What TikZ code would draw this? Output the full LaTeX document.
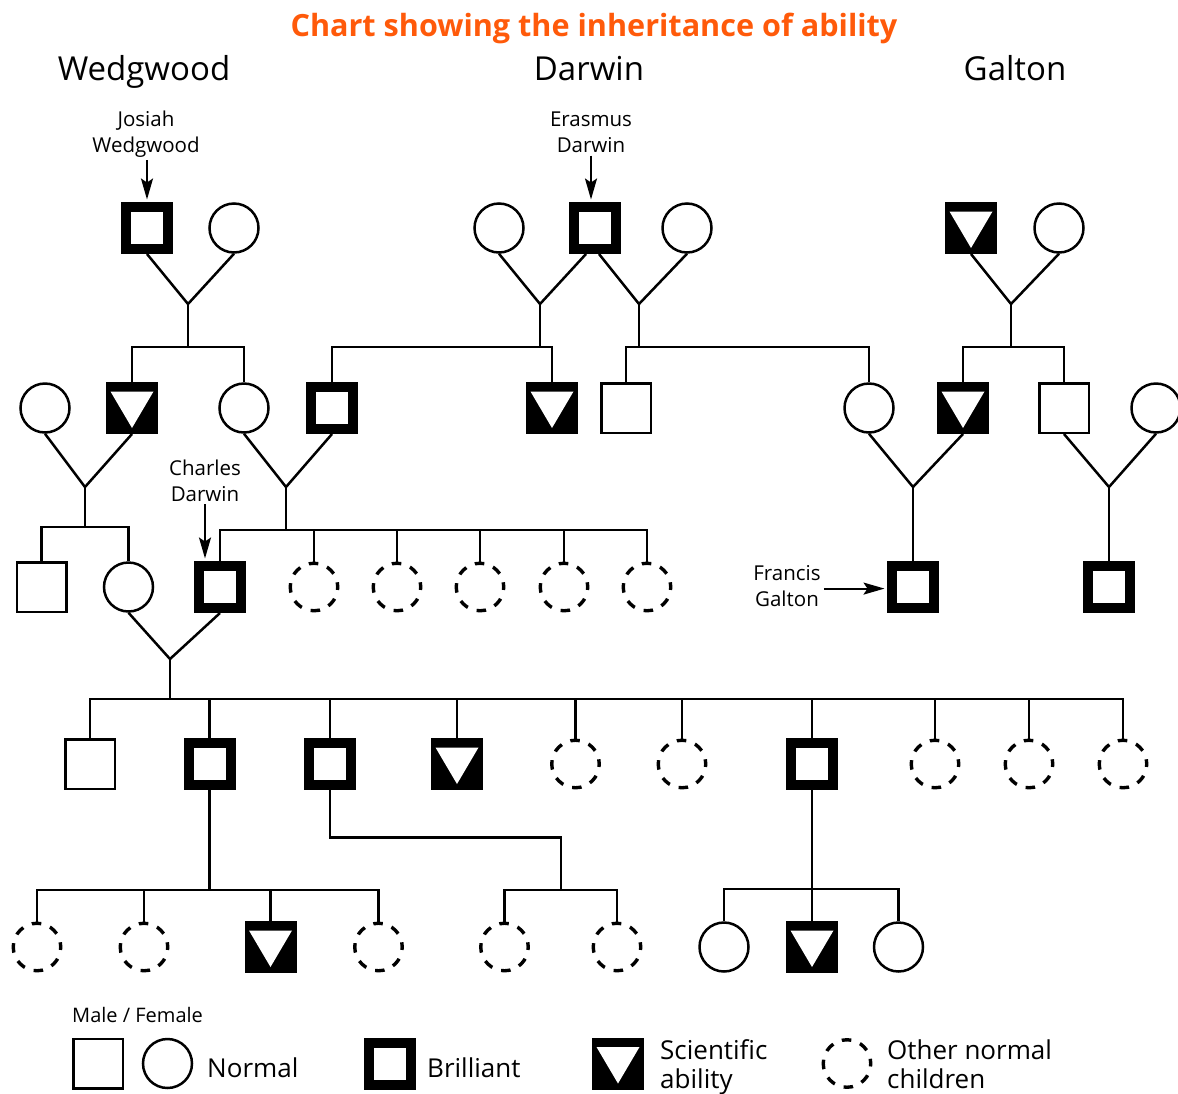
\documentclass[tikz,border=0pt]{standalone}
\usepackage{fontspec}
\setmainfont{Open Sans}
\usetikzlibrary{arrows.meta}
\definecolor{ttlc}{RGB}{255,90,10}
\begin{document}
\begin{tikzpicture}[x=1pt,y=-1pt,
  con/.style={line width=2.5pt},
  nm/.style={draw, line width=2.5pt, fill=white, minimum size=49.5pt, inner sep=0pt},
  nf/.style={circle, draw, line width=2.5pt, fill=white, minimum size=49pt, inner sep=0pt},
  br/.style={fill=black, minimum size=52pt, inner sep=0pt, outer sep=0pt,
    path picture={\fill[white] ([shift={(-16pt,-16pt)}]path picture bounding box.center) rectangle ([shift={(16pt,16pt)}]path picture bounding box.center);}},
  sc/.style={fill=black, minimum size=52pt, inner sep=0pt, outer sep=0pt,
    path picture={\fill[white] ([shift={(-21.5pt,16.5pt)}]path picture bounding box.center) -- ([shift={(21.5pt,16.5pt)}]path picture bounding box.center) -- ([shift={(0pt,-20pt)}]path picture bounding box.center) -- cycle;}},
  ot/.style={circle, draw, line width=3.4pt, dash pattern=on 9.5pt off 9.35pt, dash phase=4.75pt, minimum size=47.5pt, inner sep=0pt},
  fam/.style={font=\fontsize{33}{38}\selectfont, anchor=base, inner sep=0pt},
  lbl/.style={font=\fontsize{20.5}{26}\selectfont, align=center, anchor=base, inner sep=1pt},
  leg/.style={font=\fontsize{26}{29}\selectfont, align=left, anchor=base west, inner sep=0pt},
  arr/.style={line width=2pt, -{Stealth[length=21pt, width=12pt, inset=4pt]}, shorten >=2.5pt, shorten <=2pt},
]
\useasboundingbox (0,0) rectangle (1178,1093);

% Title and family names
\node[font=\bfseries\fontsize{30.6}{36}\selectfont, text=ttlc, anchor=base, inner sep=0pt] (title) at (594,36) {Chart showing the inheritance of ability};
\node[fam] (fw) at (144,80) {Wedgwood};
\node[fam] (fd) at (589,80) {Darwin};
\node[fam] (fgt) at (1015,80) {Galton};

% Row 1
\node[br] (jw) at (147,228) {};
\node[nf] (jwm) at (234,228) {};
\node[nf] (em1) at (499,228) {};
\node[br] (ed) at (595,228) {};
\node[nf] (em2) at (687,228) {};
\node[sc] (gt) at (971,228) {};
\node[nf] (gtm) at (1059,228) {};

% Row 2
\node[nf] (a1) at (45,408) {};
\node[sc] (a2) at (132,408) {};
\node[nf] (a3) at (244,408) {};
\node[br] (a4) at (332,408) {};
\node[sc] (a5) at (552,408) {};
\node[nm] (a6) at (626,408) {};
\node[nf] (a7) at (869,408) {};
\node[sc] (a8) at (963,408) {};
\node[nm] (a9) at (1064,408) {};
\node[nf] (a10) at (1156,408) {};

% Row 3
\node[nm] (b1) at (41.5,587) {};
\node[nf] (b2) at (128.5,587) {};
\node[br] (cd) at (220,587) {};
\node[ot] (o1) at (314,587) {};
\node[ot] (o2) at (397,587) {};
\node[ot] (o3) at (480,587) {};
\node[ot] (o4) at (564,587) {};
\node[ot] (o5) at (647,587) {};
\node[br] (fg) at (913,587) {};
\node[br] (b9) at (1109,587) {};

% Row 4
\node[nm] (c1) at (90,764) {};
\node[br] (c2) at (209.5,764) {};
\node[br] (c3) at (330,764) {};
\node[sc] (c4) at (457,764) {};
\node[ot] (c5) at (575.5,764) {};
\node[ot] (c6) at (682,764) {};
\node[br] (c7) at (812,764) {};
\node[ot] (c8) at (935,764) {};
\node[ot] (c9) at (1029,764) {};
\node[ot] (c10) at (1123,764) {};

% Row 5
\node[ot] (d1) at (37,947) {};
\node[ot] (d2) at (144,947) {};
\node[sc] (d3) at (270.5,947) {};
\node[ot] (d4) at (378.5,947) {};
\node[ot] (d5) at (504.5,947) {};
\node[ot] (d6) at (617,947) {};
\node[nf] (d7) at (724,947) {};
\node[sc] (d8) at (812,947) {};
\node[nf] (d9) at (898.5,947) {};

% Junction coordinates
\coordinate (v1) at (188,304); \coordinate (h1) at (188,347);
\coordinate (v2) at (540,304); \coordinate (h2) at (540,347);
\coordinate (v3) at (639,304); \coordinate (h3) at (639,347);
\coordinate (v4) at (1011,304); \coordinate (h4) at (1011,347);
\coordinate (v5) at (85,487); \coordinate (h5) at (85,527);
\coordinate (v6) at (286,487); \coordinate (h6) at (286,530);
\coordinate (v7) at (913,487);
\coordinate (v8) at (1109,487);
\coordinate (v9) at (170,659); \coordinate (h9) at (170,699);
\coordinate (h10) at (209.5,890);
\coordinate (k1) at (561,837.5); \coordinate (h11) at (561,890);
\coordinate (h12) at (812,889);

% Wedgwood
\draw[con] (jw.south) -- (v1) -- (jwm.south);
\draw[con] (v1) -- (h1);
\draw[con] (a2.north) |- (h1) -| (a3.north);
% Darwin
\draw[con] (em1.south) -- (v2) -- ([xshift=-9pt]ed.south);
\draw[con] (v2) -- (h2);
\draw[con] (a4.north) |- (h2) -| (a5.north);
\draw[con] ([xshift=4pt]ed.south) -- (v3) -- (em2.south);
\draw[con] (v3) -- (h3);
\draw[con] (a6.north) |- (h3) -| (a7.north);
% Galton
\draw[con] (gt.south) -- (v4) -- (gtm.south);
\draw[con] (v4) -- (h4);
\draw[con] (a8.north) |- (h4) -| (a9.north);

% Row 2 marriages
\draw[con] (a1.south) -- (v5) -- (a2.south);
\draw[con] (v5) -- (h5);
\draw[con] (b1.north) |- (h5) -| (b2.north);
\draw[con] (a3.south) -- (v6) -- (a4.south);
\draw[con] (v6) -- (h6);
\draw[con] (cd.north) |- (h6) -| (o5.north);
\foreach \n in {o1,o2,o3,o4} \draw[con] (\n.north) -- (\n.north |- h6);
\draw[con] (a7.south) -- (v7) -- (a8.south);
\draw[con] (v7) -- (fg.north);
\draw[con] (a9.south) -- (v8) -- (a10.south);
\draw[con] (v8) -- (b9.north);

% Row 3 marriage
\draw[con] (b2.south) -- (v9) -- (cd.south);
\draw[con] (v9) -- (h9);
\draw[con] (c1.north) |- (h9) -| (c10.north);
\foreach \n in {c2,c3,c4,c5,c6,c7,c8,c9} \draw[con] (\n.north) -- (\n.north |- h9);

% Row 4 to 5
\draw[con] (c2.south) -- (h10);
\draw[con] (d1.north) |- (h10) -| (d4.north);
\foreach \n in {d2,d3} \draw[con] (\n.north) -- (\n.north |- h10);
\draw[con] (c3.south) |- (k1) -- (h11);
\draw[con] (d5.north) |- (h11) -| (d6.north);
\draw[con] (c7.south) -- (d8.north);
\draw[con] (d7.north) |- (h12) -| (d9.north);

% Name labels and arrows
\node[lbl] (jwl) at (146,152.3) {Josiah\\Wedgwood};
\draw[arr] (jw.north |- jwl.south) -- (jw.north);
\node[lbl] (edl) at (591,152.3) {Erasmus\\Darwin};
\draw[arr] (edl.south) -- (edl.south |- ed.north);
\node[lbl] (cdl) at (205,501) {Charles\\Darwin};
\draw[arr] (cdl.south) -- (cdl.south |- cd.north);
\node[lbl] (fgl) at (787,606) {Francis\\Galton};
\coordinate (fga) at ([yshift=-3pt]fgl.east);
\draw[arr] (fga) -- (fga -| fg.west);

% Legend
\node[font=\fontsize{20}{22}\selectfont, anchor=base west, inner sep=0pt] (lmf) at (72,1022) {Male / Female};
\node[nm] (ln1) at (98,1063.5) {};
\node[nf] (ln2) at (167.5,1063.5) {};
\node[leg] (tn) at (207,1077) {Normal};
\node[br] (lb) at (390,1063.5) {};
\node[leg] (tb) at (427,1077) {Brilliant};
\node[sc] (ls) at (618,1063.5) {};
\node[leg] (ts) at (660,1088) {Scientific\\ability};
\node[ot] (lo) at (847,1063.5) {};
\node[leg] (to) at (887,1088) {Other normal\\children};
\end{tikzpicture}
\end{document}
